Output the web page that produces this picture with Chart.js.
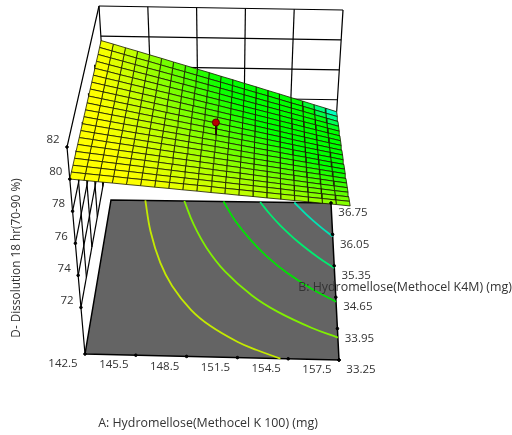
<!DOCTYPE html>
<html>
<head>
<meta charset="utf-8">
<title>D- Dissolution 18 hr response surface</title>
<script src="https://cdn.jsdelivr.net/npm/chart.js@4/dist/chart.umd.js"></script>
<style>
    html, body { margin: 0; padding: 0; background: #fff; }
    canvas { display: block; }
</style>
</head>
<body>
<canvas id="surfaceChart" width="512" height="435"></canvas>
<script>
// Tick labels of the three axes
const aTicks = [142.5, 145.5, 148.5, 151.5, 154.5, 157.5];
const bTicks = [33.25, 33.95, 34.65, 35.35, 36.05, 36.75];
const dTicks = [72, 74, 76, 78, 80, 82];

const aTitle = 'A: Hydromellose(Methocel K 100) (mg)';
const bTitle = 'B: Hydromellose(Methocel K4M) (mg)';
const dTitle = 'D- Dissolution 18 hr(70-90 %)';

// Response: one row per B step (33.25 up to 36.75), one column per A step
const surfaceRows = [
    [80.00,79.94,79.87,79.81,79.74,79.68,79.61,79.55,79.48,79.42,79.35,79.29,79.22,79.16,79.09,79.03,78.96,78.90,78.83,78.77,78.70],
    [79.99,79.91,79.84,79.77,79.69,79.62,79.55,79.47,79.40,79.33,79.26,79.18,79.11,79.04,78.96,78.89,78.82,78.74,78.67,78.60,78.53],
    [79.97,79.89,79.81,79.73,79.65,79.57,79.48,79.40,79.32,79.24,79.16,79.08,79.00,78.92,78.84,78.76,78.67,78.59,78.51,78.43,78.35],
    [79.96,79.87,79.78,79.69,79.60,79.51,79.42,79.33,79.24,79.15,79.07,78.98,78.89,78.80,78.71,78.62,78.53,78.44,78.35,78.26,78.18],
    [79.94,79.84,79.75,79.65,79.55,79.46,79.36,79.26,79.16,79.07,78.97,78.87,78.78,78.68,78.58,78.49,78.39,78.29,78.19,78.10,78.00],
    [79.93,79.82,79.72,79.61,79.51,79.40,79.30,79.19,79.09,78.98,78.88,78.77,78.67,78.56,78.46,78.35,78.25,78.14,78.04,77.93,77.83],
    [79.91,79.80,79.68,79.57,79.46,79.35,79.23,79.12,79.01,78.89,78.78,78.67,78.55,78.44,78.33,78.22,78.10,77.99,77.88,77.76,77.65],
    [79.90,79.77,79.65,79.53,79.41,79.29,79.17,79.05,78.93,78.81,78.69,78.56,78.44,78.32,78.20,78.08,77.96,77.84,77.72,77.60,77.48],
    [79.88,79.75,79.62,79.49,79.36,79.24,79.11,78.98,78.85,78.72,78.59,78.46,78.33,78.20,78.07,77.95,77.82,77.69,77.56,77.43,77.30],
    [79.87,79.73,79.59,79.45,79.32,79.18,79.04,78.91,78.77,78.63,78.50,78.36,78.22,78.08,77.95,77.81,77.67,77.54,77.40,77.26,77.13],
    [79.85,79.71,79.56,79.42,79.27,79.13,78.98,78.84,78.69,78.55,78.40,78.26,78.11,77.97,77.82,77.68,77.53,77.39,77.24,77.10,76.95],
    [79.84,79.68,79.53,79.38,79.22,79.07,78.92,78.76,78.61,78.46,78.31,78.15,78.00,77.85,77.69,77.54,77.39,77.23,77.08,76.93,76.78],
    [79.82,79.66,79.50,79.34,79.18,79.02,78.85,78.69,78.53,78.37,78.21,78.05,77.89,77.73,77.57,77.41,77.24,77.08,76.92,76.76,76.60],
    [79.81,79.64,79.47,79.30,79.13,78.96,78.79,78.62,78.45,78.28,78.12,77.95,77.78,77.61,77.44,77.27,77.10,76.93,76.76,76.59,76.43],
    [79.79,79.61,79.44,79.26,79.08,78.91,78.73,78.55,78.37,78.20,78.02,77.84,77.67,77.49,77.31,77.14,76.96,76.78,76.60,76.43,76.25],
    [79.78,79.59,79.41,79.22,79.04,78.85,78.67,78.48,78.30,78.11,77.93,77.74,77.56,77.37,77.19,77.00,76.82,76.63,76.45,76.26,76.08],
    [79.76,79.57,79.37,79.18,78.99,78.80,78.60,78.41,78.22,78.02,77.83,77.64,77.44,77.25,77.06,76.87,76.67,76.48,76.29,76.09,75.90],
    [79.75,79.54,79.34,79.14,78.94,78.74,78.54,78.34,78.14,77.94,77.74,77.53,77.33,77.13,76.93,76.73,76.53,76.33,76.13,75.93,75.73],
    [79.73,79.52,79.31,79.10,78.89,78.69,78.48,78.27,78.06,77.85,77.64,77.43,77.22,77.01,76.80,76.60,76.39,76.18,75.97,75.76,75.55],
    [79.72,79.50,79.28,79.06,78.85,78.63,78.41,78.20,77.98,77.76,77.55,77.33,77.11,76.89,76.68,76.46,76.24,76.03,75.81,75.59,75.38],
    [79.70,79.48,79.25,79.03,78.80,78.58,78.35,78.13,77.90,77.68,77.45,77.23,77.00,76.78,76.55,76.33,76.10,75.88,75.65,75.43,75.20]
];

const contourA1 = [154.04,152.63,151.49,149.78,148.54,147.24,146.33,145.46,144.84];
const contourB1 = [33.25,33.43,33.60,33.95,34.30,34.83,35.35,36.05,36.75];
const contourA2 = [157.5,155.96,153.86,152.27,150.51,149.24,148.26,147.5];
const contourB2 = [33.75,33.95,34.30,34.65,35.18,35.70,36.23,36.75];
const contourA3 = [157.5,156.0,154.44,153.18,152.13,151.05,150.17];
const contourB3 = [34.55,34.83,35.18,35.53,35.88,36.31,36.75];
const contourA4 = [157.5,156.5,155.18,154.05,153.32,152.67];
const contourB4 = [35.30,35.53,35.88,36.23,36.49,36.75];
const contourA5 = [157.5,156.66,155.79,155.0];
const contourB5 = [36.0,36.23,36.49,36.75];

// Design point at the centre of the surface
const designA = 150;
const designB = 35;
const designD = 79.2;
const designSurfaceD = 78.4;

// Range of the box and where its corners land on the page
const rangeA = [142.5, 157.5];
const rangeB = [33.25, 36.75];
const rangeD = [69.1, 82];
const view = {
    floor: { a0b0: [85, 354], a1b0: [339, 360], a0b1: [111, 200], a1b1: [331, 203] },
    top: { a0b0: [67, 147], a1b0: [354, 153], a0b1: [99, 6], a1b1: [343, 10] }
};

// Blend the eight corners to put a data value on the page
function project(A, B, D) {
    const a = (A - rangeA[0]) / (rangeA[1] - rangeA[0]);
    const b = (B - rangeB[0]) / (rangeB[1] - rangeB[0]);
    const d = (D - rangeD[0]) / (rangeD[1] - rangeD[0]);
    const blend = (c, k) => (1 - a) * (1 - b) * c.a0b0[k] + a * (1 - b) * c.a1b0[k] + (1 - a) * b * c.a0b1[k] + a * b * c.a1b1[k];
    return {
        x: (1 - d) * blend(view.floor, 0) + d * blend(view.top, 0),
        y: (1 - d) * blend(view.floor, 1) + d * blend(view.top, 1)
    };
}

// Yellow at the high end, through green, to cyan at the low end
function surfaceColor(D) {
    const r = Math.max(0, Math.min(255, Math.round((D - 77.5) / 2.2 * 255)));
    const b = Math.max(0, Math.min(255, Math.round((76 - D) / 0.8 * 255)));
    return 'rgb(' + r + ',255,' + b + ')';
}

const datasets = [];

function addLine(points, color, width, order, extra) {
    datasets.push(Object.assign({
        data: points,
        showLine: true,
        borderColor: color,
        borderWidth: width,
        pointRadius: 0,
        tension: 0,
        fill: false,
        clip: false,
        order: order
    }, extra || {}));
}

// Back wall
aTicks.forEach(A => addLine([project(A, rangeB[1], 82), project(A, rangeB[1], 75.2)], '#000', 1.2, 60));
dTicks.filter(D => D >= 76).forEach(D => addLine([project(rangeA[0], rangeB[1], D), project(rangeA[1], rangeB[1], D)], '#000', 1.2, 60));

// Left wall
addLine([project(rangeA[0], rangeB[1], 82), project(rangeA[0], rangeB[0], 82), project(rangeA[0], rangeB[0], rangeD[0])], '#000', 1.2, 50);
dTicks.filter(D => D < 80).forEach(D => addLine([project(rangeA[0], rangeB[0], D), project(rangeA[0], rangeB[1], D)], '#000', 1.2, 50));
bTicks.slice(1, 5).forEach(B => addLine([project(rangeA[0], B, 72), project(rangeA[0], B, 80)], '#000', 1.2, 50));

// Floor
addLine([
    project(rangeA[0], rangeB[0], rangeD[0]),
    project(rangeA[1], rangeB[0], rangeD[0]),
    project(rangeA[1], rangeB[1], rangeD[0]),
    project(rangeA[0], rangeB[1], rangeD[0]),
    project(rangeA[0], rangeB[0], rangeD[0])
], '#000', 1.5, 40, { fill: 'shape', backgroundColor: '#646464' });

// Floor contours
const contourColors = ['#c4ea00', '#80f000', '#00e400', '#00ec70', '#00e4b4'];
[[contourA1, contourB1], [contourA2, contourB2], [contourA3, contourB3], [contourA4, contourB4], [contourA5, contourB5]].forEach((c, n) => {
    addLine(c[0].map((A, i) => project(A, c[1][i], rangeD[0])), contourColors[n], 1.8, 30, { tension: 0.4 });
});

// Surface cells
const stepA = (rangeA[1] - rangeA[0]) / 20;
const stepB = (rangeB[1] - rangeB[0]) / 20;
for (let j = 0; j < surfaceRows.length - 1; j++) {
    for (let i = 0; i < surfaceRows[j].length - 1; i++) {
        const A0 = rangeA[0] + i * stepA, A1 = A0 + stepA;
        const B0 = rangeB[0] + j * stepB, B1 = B0 + stepB;
        const mid = (surfaceRows[j][i] + surfaceRows[j][i + 1] + surfaceRows[j + 1][i] + surfaceRows[j + 1][i + 1]) / 4;
        addLine([
            project(A0, B0, surfaceRows[j][i]),
            project(A1, B0, surfaceRows[j][i + 1]),
            project(A1, B1, surfaceRows[j + 1][i + 1]),
            project(A0, B1, surfaceRows[j + 1][i]),
            project(A0, B0, surfaceRows[j][i])
        ], '#1a1a00', 0.8, 20, { fill: 'shape', backgroundColor: surfaceColor(mid) });
    }
}

// Design point and its stem
addLine([project(designA, designB, designD), project(designA, designB, designSurfaceD)], '#200000', 1, 10);
addLine([project(designA, designB, designD)], '#5a0000', 1, 5, { showLine: false, pointRadius: 3.5, pointBackgroundColor: '#b80000', pointBorderColor: '#5a0000' });

// Tick dots
const tickDots = aTicks.map(A => project(A, rangeB[0], rangeD[0]))
    .concat(bTicks.map(B => project(rangeA[1], B, rangeD[0])))
    .concat(dTicks.map(D => project(rangeA[0], rangeB[0], D)));
addLine(tickDots, '#000', 1, 6, { showLine: false, pointRadius: 1.3, pointBackgroundColor: '#000', pointBorderColor: '#000' });

// Axis text goes on after the datasets so it sits over the plot like in the original
const axisText = {
    id: 'axisText',
    afterDraw(chart) {
        const ctx = chart.ctx;
        const sx = chart.scales.x, sy = chart.scales.y;
        const put = (text, p, dx, dy) => ctx.fillText(text, sx.getPixelForValue(p.x) + dx, sy.getPixelForValue(p.y) + dy);
        ctx.save();
        ctx.font = '11.5px "Open Sans"';
        ctx.fillStyle = '#333';
        ctx.textAlign = 'center';
        ctx.textBaseline = 'middle';
        aTicks.forEach(A => put(A.toFixed(1), project(A, rangeB[0], rangeD[0]), -22, 10));
        bTicks.forEach(B => put(B.toFixed(2), project(rangeA[1], B, rangeD[0]), 22, 10));
        dTicks.forEach(D => put(String(D), project(rangeA[0], rangeB[0], D), -14, -7));
        ctx.font = '12.4px "Open Sans"';
        ctx.fillText(aTitle, 208, 423);
        ctx.fillText(bTitle, 405, 287);
        ctx.font = '11.8px "Open Sans"';
        ctx.translate(17, 258);
        ctx.rotate(-Math.PI / 2);
        ctx.fillText(dTitle, 0, 0);
        ctx.restore();
    }
};

new Chart(document.getElementById('surfaceChart'), {
    type: 'scatter',
    data: { datasets: datasets },
    options: {
        responsive: false,
        animation: false,
        events: [],
        layout: { padding: 0, autoPadding: false },
        plugins: { legend: { display: false }, tooltip: { enabled: false } },
        scales: {
            x: { type: 'linear', min: 0, max: 512, display: false },
            y: { type: 'linear', min: 0, max: 435, reverse: true, display: false }
        }
    },
    plugins: [axisText]
});
</script>
</body>
</html>
